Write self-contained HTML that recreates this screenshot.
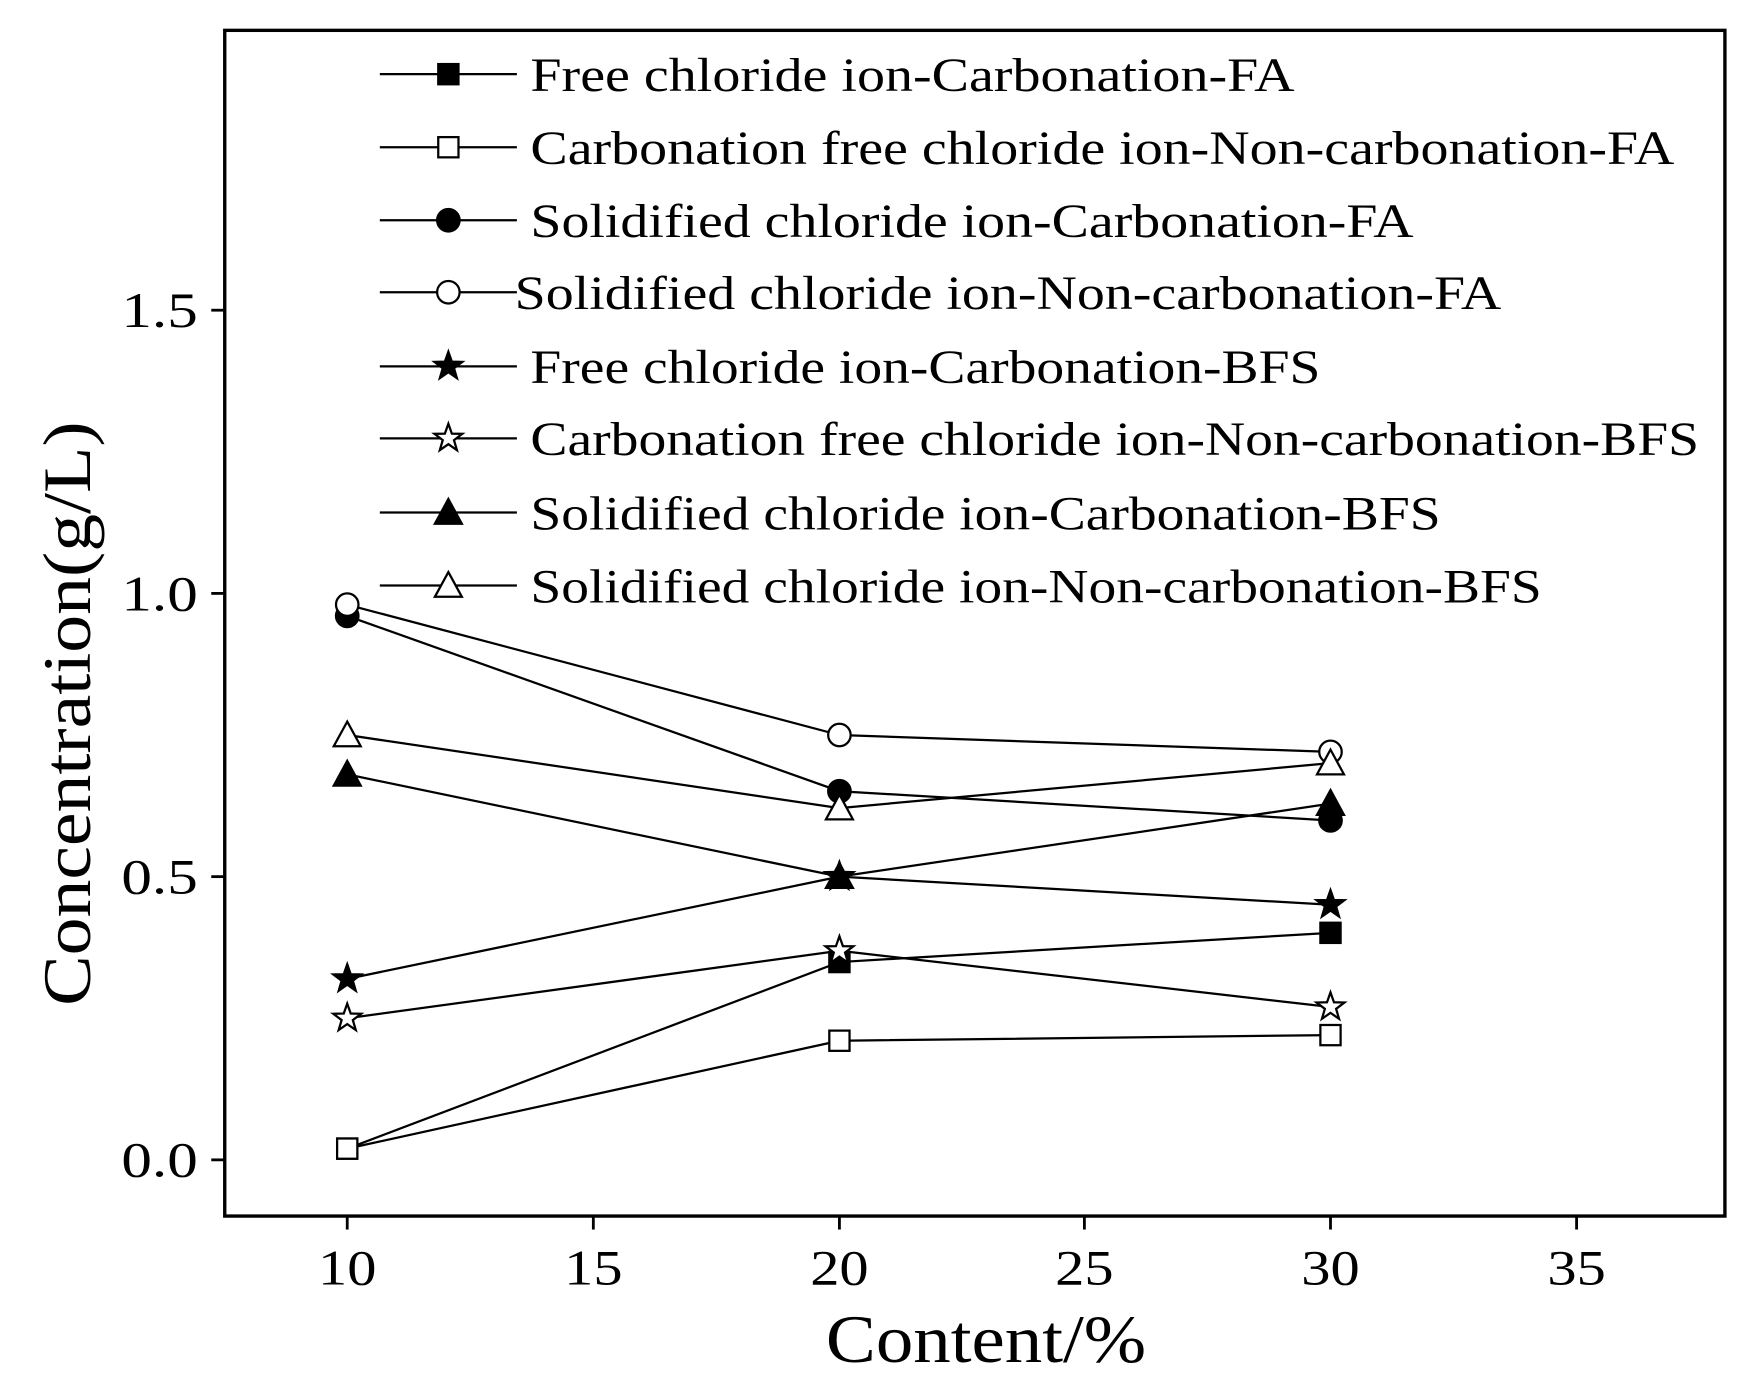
<!DOCTYPE html>
<html><head><style>body{margin:0;background:#fff}svg{display:block}</style></head><body>
<svg width="1762" height="1397" viewBox="0 0 1568 1243" preserveAspectRatio="none" xmlns="http://www.w3.org/2000/svg" font-family="Liberation Serif, serif">
<defs>
<path id="star" d="M0,-13 L3.1,-4.2 L12.4,-4 L5,1.6 L7.6,10.5 L0,5.2 L-7.6,10.5 L-5,1.6 L-12.4,-4 L-3.1,-4.2Z"/>
</defs>
<rect x="200" y="27" width="1335" height="1055" fill="none" stroke="#000" stroke-width="3"/>
<g stroke="#000" stroke-width="2.5">
<line x1="309" y1="1082" x2="309" y2="1094"/><line x1="528" y1="1082" x2="528" y2="1094"/><line x1="747" y1="1082" x2="747" y2="1094"/><line x1="965" y1="1082" x2="965" y2="1094"/><line x1="1184" y1="1082" x2="1184" y2="1094"/><line x1="1403" y1="1082" x2="1403" y2="1094"/>
<line x1="200" y1="1032" x2="188" y2="1032"/><line x1="200" y1="780" x2="188" y2="780"/><line x1="200" y1="528" x2="188" y2="528"/><line x1="200" y1="276" x2="188" y2="276"/>
</g>
<g font-size="44" text-anchor="middle" lengthAdjust="spacingAndGlyphs">
<text x="309" y="1143" textLength="52" lengthAdjust="spacingAndGlyphs">10</text><text x="528" y="1143" textLength="52" lengthAdjust="spacingAndGlyphs">15</text><text x="747" y="1143" textLength="52" lengthAdjust="spacingAndGlyphs">20</text><text x="965" y="1143" textLength="52" lengthAdjust="spacingAndGlyphs">25</text><text x="1184" y="1143" textLength="52" lengthAdjust="spacingAndGlyphs">30</text><text x="1403" y="1143" textLength="52" lengthAdjust="spacingAndGlyphs">35</text>
</g>
<g font-size="44">
<text x="108" y="1047" textLength="68" lengthAdjust="spacingAndGlyphs">0.0</text><text x="108" y="795" textLength="68" lengthAdjust="spacingAndGlyphs">0.5</text><text x="108" y="543" textLength="68" lengthAdjust="spacingAndGlyphs">1.0</text><text x="108" y="291" textLength="68" lengthAdjust="spacingAndGlyphs">1.5</text>
</g>
<text x="735" y="1212" font-size="60" textLength="285" lengthAdjust="spacingAndGlyphs">Content/%</text>
<text transform="translate(80,895) rotate(-90)" font-size="60" textLength="520" lengthAdjust="spacingAndGlyphs">Concentration(g/L)</text>
<g fill="none" stroke="#000" stroke-width="2">
<polyline points="309,1022 747,856 1184,830"/>
<polyline points="309,1022 747,926 1184,921"/>
<polyline points="309,548 747,704 1184,730"/>
<polyline points="309,538 747,654 1184,669"/>
<polyline points="309,871 747,780 1184,805"/>
<polyline points="309,906 747,846 1184,896"/>
<polyline points="309,689 747,780 1184,715"/>
<polyline points="309,654 747,719 1184,679"/>
</g>
<g stroke="#000" stroke-width="2">
<g fill="#000"><rect x="300" y="1013" width="18" height="18"/><rect x="738" y="847" width="18" height="18"/><rect x="1175" y="821" width="18" height="18"/></g>
<g fill="#fff"><rect x="300" y="1013" width="18" height="18"/><rect x="738" y="917" width="18" height="18"/><rect x="1175" y="912" width="18" height="18"/></g>
<g fill="#000"><circle cx="309" cy="548" r="10"/><circle cx="747" cy="704" r="10"/><circle cx="1184" cy="730" r="10"/></g>
<g fill="#fff"><circle cx="309" cy="538" r="10"/><circle cx="747" cy="654" r="10"/><circle cx="1184" cy="669" r="10"/></g>
<g fill="#000"><use href="#star" x="309" y="871"/><use href="#star" x="747" y="780"/><use href="#star" x="1184" y="805"/></g>
<g fill="#fff"><use href="#star" x="309" y="906"/><use href="#star" x="747" y="846"/><use href="#star" x="1184" y="896"/></g>
<g fill="#000"><path d="M309,677 L321,699 L297,699Z"/><path d="M747,768 L759,790 L735,790Z"/><path d="M1184,703 L1196,725 L1172,725Z"/></g>
<g fill="#fff"><path d="M309,642 L321,664 L297,664Z"/><path d="M747,707 L759,729 L735,729Z"/><path d="M1184,667 L1196,689 L1172,689Z"/></g>
</g>
<g stroke="#000" stroke-width="2">
<line x1="338" y1="66" x2="460" y2="66"/><line x1="338" y1="131" x2="460" y2="131"/><line x1="338" y1="196" x2="460" y2="196"/><line x1="338" y1="260" x2="460" y2="260"/><line x1="338" y1="326" x2="460" y2="326"/><line x1="338" y1="390" x2="460" y2="390"/><line x1="338" y1="456" x2="460" y2="456"/><line x1="338" y1="521" x2="460" y2="521"/>
<rect x="390" y="57" width="18" height="18" fill="#000"/>
<rect x="390" y="122" width="18" height="18" fill="#fff"/>
<circle cx="399" cy="196" r="10" fill="#000"/>
<circle cx="399" cy="260" r="10" fill="#fff"/>
<use href="#star" x="399" y="326" fill="#000"/>
<use href="#star" x="399" y="390" fill="#fff"/>
<path d="M399,444 L411,466 L387,466Z" fill="#000"/>
<path d="M399,509 L411,531 L387,531Z" fill="#fff"/>
</g>
<g font-size="42">
<text x="472" y="81" textLength="680" lengthAdjust="spacingAndGlyphs">Free chloride ion-Carbonation-FA</text>
<text x="472" y="146" textLength="1018" lengthAdjust="spacingAndGlyphs">Carbonation free chloride ion-Non-carbonation-FA</text>
<text x="472" y="211" textLength="786" lengthAdjust="spacingAndGlyphs">Solidified chloride ion-Carbonation-FA</text>
<text x="458" y="275" textLength="878" lengthAdjust="spacingAndGlyphs">Solidified chloride ion-Non-carbonation-FA</text>
<text x="472" y="341" textLength="703" lengthAdjust="spacingAndGlyphs">Free chloride ion-Carbonation-BFS</text>
<text x="472" y="405" textLength="1040" lengthAdjust="spacingAndGlyphs">Carbonation free chloride ion-Non-carbonation-BFS</text>
<text x="472" y="471" textLength="810" lengthAdjust="spacingAndGlyphs">Solidified chloride ion-Carbonation-BFS</text>
<text x="472" y="536" textLength="900" lengthAdjust="spacingAndGlyphs">Solidified chloride ion-Non-carbonation-BFS</text>
</g>
</svg>
</body></html>
